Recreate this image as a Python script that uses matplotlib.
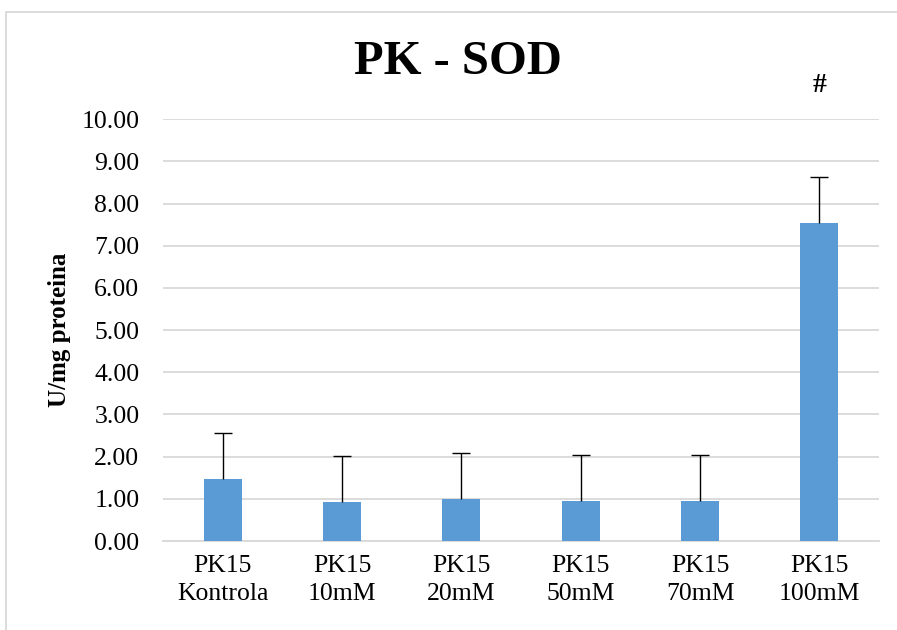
import matplotlib
matplotlib.use("Agg")
import matplotlib.pyplot as plt
from matplotlib.patches import Rectangle

categories = ["PK15\nKontrola", "PK15\n10mM", "PK15\n20mM", "PK15\n50mM", "PK15\n70mM", "PK15\n100mM"]
values = [1.47, 0.92, 1.00, 0.96, 0.96, 7.55]
errors = [1.09, 1.09, 1.09, 1.09, 1.09, 1.08]
yticks = [0, 1, 2, 3, 4, 5, 6, 7, 8, 9, 10]
marker_text = "#"
marker_index = 5
marker_y = 10.8

plt.rcParams['font.family'] = ['Liberation Serif', 'DejaVu Serif']

W, H = 897, 630
fig = plt.figure(figsize=(W / 100, H / 100), dpi=100)
ax = fig.add_axes([163 / W, 1 - 541 / H, (879 - 163) / W, (541 - 119.3) / H])

x = list(range(len(categories)))
ax.bar(x, values, width=0.32, color="#5b9bd5", zorder=3)
eb = ax.errorbar(x, values, yerr=[[0] * len(errors), errors], fmt="none",
                 ecolor="black", elinewidth=1.0, capsize=6.5, capthick=1.0, zorder=4)
# hide the lower caps (only the plus error is drawn)
eb[1][0].set_visible(False)

ax.set_xlim(-0.5, len(categories) - 0.5)
ax.set_ylim(0, 10)
ax.set_yticks(yticks)
ax.set_yticklabels([f"{v:.2f}" for v in yticks], fontsize=18.5)
ax.set_xticks(x)
ax.set_xticklabels(categories, fontsize=18.5, linespacing=1.35)
ax.tick_params(axis="y", length=0, pad=17)
ax.tick_params(axis="x", length=0, pad=10)

ax.grid(axis="y", color="#d9d9d9", linewidth=1.3, zorder=0)
for s in ["top", "right", "left"]:
    ax.spines[s].set_visible(False)
ax.spines["bottom"].set_color("#d9d9d9")
ax.spines["bottom"].set_linewidth(1.3)

ax.set_ylabel("U/mg proteina", fontsize=18, fontweight="bold")
ax.yaxis.set_label_coords(-0.128, 0.5)

fig.text(458 / W, 1 - 62 / H, "PK - SOD", fontsize=35, fontweight="bold",
         ha="center", va="center")
ax.text(marker_index, marker_y, marker_text, fontsize=20, fontweight="bold",
        ha="center", va="center", clip_on=False)

fig.patches.append(Rectangle((6 / W, -0.1), 1.2, 1 - 12 / H + 0.1,
                             transform=fig.transFigure, fill=False,
                             edgecolor="#d9d9d9", linewidth=1.3))

fig.savefig("out.png", dpi=100)
